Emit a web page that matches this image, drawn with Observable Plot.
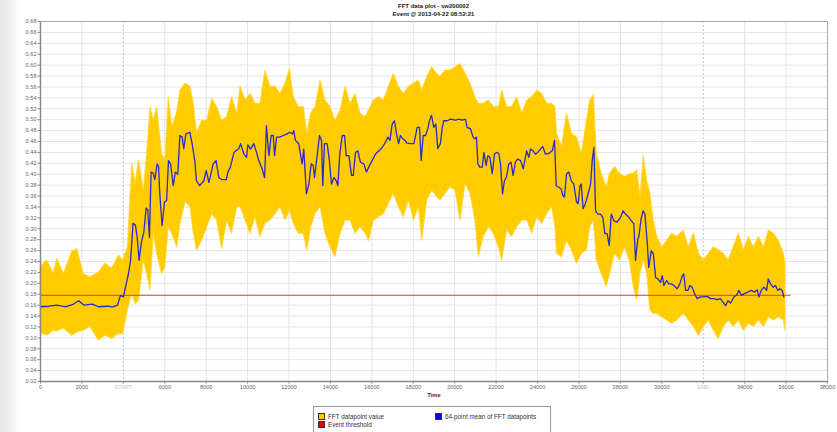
<!DOCTYPE html>
<html><head><meta charset="utf-8">
<script src="https://cdn.jsdelivr.net/npm/d3@7"></script>
<script src="https://cdn.jsdelivr.net/npm/@observablehq/plot@0.6"></script>
<style>
body{margin:0;background:#fff;font-family:"Liberation Sans",Arial,sans-serif;}
#wrap{position:relative;width:837px;height:432px;overflow:hidden;background:linear-gradient(to right,#e6e6e6 0px,#f3f3f3 12px,#fcfcfc 17px,#fff 19px);}
#title{position:absolute;left:40px;width:787px;top:3px;text-align:center;font-weight:bold;font-size:6px;line-height:7.5px;color:#222;z-index:2;}
#chart{position:absolute;left:0;top:15px;}
#legend{position:absolute;left:313px;top:406px;width:236px;height:40px;border:1px solid #999;background:#fff;font-size:6.3px;color:#333;}
.item{position:absolute;white-space:nowrap;line-height:7px;}
.sw{display:inline-block;width:5px;height:5px;border:0.7px solid #333;vertical-align:-1px;margin-right:3px;}
</style></head>
<body><div id="wrap">
<div id="chart"></div>
<div id="title">FFT data plot - sw200002<br>Event @ 2013-04-22 08:52:21</div>
<div id="legend"></div>
</div>
<script>
// FFT datapoint envelope
const fftX = [0,320,640,800,1130,1530,1770,2090,2410,2820,
3140,3460,3780,3990,4220,4430,4590,4750,4990,5150,
5310,5470,5630,5870,6030,6190,6360,6600,6760,7000,
7240,7400,7560,7800,8050,8290,8530,8770,9010,9250,
9500,9660,9900,10140,10380,10620,10860,11100,11350,11590,
11830,12040,12230,12470,12710,12880,13070,13280,13520,13760,
14000,14240,14490,14730,14970,15210,15450,15700,15860,16100,
16340,16580,16820,17060,17300,17540,17790,18030,18270,18430,
18670,18910,19150,19310,19550,19800,20040,20280,20520,20760,
21000,21160,21400,21650,21890,22130,22290,22530,22770,23020,
23260,23500,23740,23980,24220,24460,24700,24860,24940,25180,
25420,25660,25900,26140,26380,26540,26720,26860,27100,27340,
27500,27740,27980,28220,28460,28650,28810,28970,29130,29290,
29450,29610,29780,30020,30260,30500,30740,31060,31300,31550,
31790,32030,32270,32510,32750,32990,33230,33470,33720,33960,
34200,34440,34690,34930,35170,35410,35650,35890,35970];
const fftHigh = [.230,.242,.217,.245,.217,.258,.263,.217,.211,.220,
.236,.227,.251,.242,.266,.419,.382,.425,.370,.437,
.523,.498,.523,.437,.425,.541,.486,.514,.553,.566,
.560,.529,.474,.498,.498,.538,.523,.498,.505,.541,
.511,.560,.535,.547,.529,.529,.590,.560,.560,.547,
.566,.593,.541,.523,.523,.474,.511,.523,.572,.535,
.523,.498,.517,.560,.529,.547,.511,.505,.517,.535,
.541,.535,.560,.584,.560,.547,.560,.566,.572,.553,
.578,.596,.584,.578,.590,.590,.596,.602,.584,.566,
.541,.529,.529,.535,.523,.523,.553,.523,.523,.541,
.511,.535,.541,.553,.547,.529,.529,.523,.474,.450,
.511,.474,.468,.437,.498,.535,.545,.437,.401,.376,
.401,.413,.401,.395,.400,.401,.407,.358,.434,.388,
.364,.315,.285,.266,.278,.291,.285,.297,.266,.291,
.254,.242,.254,.266,.260,.254,.242,.266,.291,.260,
.285,.266,.285,.266,.297,.291,.278,.254,.236];
const fftLow = [.110,.104,.113,.112,.117,.104,.110,.113,.120,.095,
.104,.098,.107,.107,.150,.181,.162,.168,.242,.217,
.187,.291,.254,.217,.230,.303,.291,.266,.309,.349,
.340,.291,.260,.278,.303,.327,.315,.263,.315,.291,
.340,.340,.315,.291,.321,.285,.309,.315,.327,.340,
.315,.333,.309,.291,.291,.260,.303,.327,.340,.291,
.266,.248,.291,.315,.315,.291,.303,.291,.278,.315,
.321,.327,.346,.364,.340,.321,.352,.315,.340,.278,
.352,.370,.358,.352,.364,.376,.370,.315,.382,.364,
.315,.248,.285,.303,.291,.266,.242,.297,.285,.303,
.315,.315,.291,.321,.309,.327,.340,.303,.254,.248,
.278,.260,.236,.254,.260,.303,.315,.242,.217,.193,
.217,.254,.242,.266,.240,.193,.168,.217,.242,.217,
.150,.144,.144,.138,.132,.126,.132,.144,.132,.120,
.104,.120,.132,.113,.098,.120,.132,.120,.132,.113,
.126,.120,.132,.120,.138,.132,.138,.132,.113];
// 64-point mean of FFT datapoints
const meanX = [0,400,800,1200,1600,1840,2100,2500,2800,3200,
3500,3720,3860,4000,4250,4350,4470,4580,4670,4760,
4870,4990,5100,5180,5260,5340,5440,5520,5630,5700,
5760,5870,5990,6090,6180,6280,6410,6510,6630,6730,
6840,6920,7020,7210,7320,7450,7530,7680,7890,8000,
8130,8340,8480,8610,8770,8970,9050,9170,9340,9580,
9660,9820,9950,10010,10140,10300,10430,10540,10700,10820,
10910,11030,11140,11240,11300,11400,11560,11720,11910,12040,
12170,12230,12310,12470,12550,12630,12710,12840,12960,13070,
13170,13230,13360,13470,13570,13630,13710,13840,13940,14050,
14170,14280,14360,14450,14570,14680,14760,14890,15020,15100,
15210,15320,15450,15610,15740,15850,16010,16180,16340,16500,
16660,16770,16870,16980,17090,17190,17290,17380,17490,17600,
17700,17870,18030,18190,18300,18380,18480,18590,18700,18780,
18880,18990,19090,19180,19310,19400,19470,19640,19800,20040,
20200,20360,20520,20600,20760,20890,20970,21050,21120,21210,
21330,21410,21520,21600,21700,21810,21920,22020,22130,22210,
22310,22400,22500,22610,22720,22820,22930,23040,23180,23310,
23470,23580,23660,23790,23900,24010,24140,24250,24380,24540,
24710,24820,24900,25030,25140,25220,25300,25400,25510,25630,
25750,25880,25960,26050,26110,26200,26280,26400,26560,26640,
26720,26800,26910,27040,27150,27250,27360,27460,27560,27680,
27840,28010,28130,28250,28410,28520,28650,28730,28840,28890,
29000,29100,29180,29290,29370,29490,29590,29700,29810,29940,
30020,30100,30230,30340,30470,30580,30740,30870,30990,31060,
31150,31260,31350,31460,31580,31710,31870,32030,32190,32350,
32510,32670,32830,32960,33080,33190,33320,33480,33610,33720,
33850,33990,34150,34320,34480,34610,34690,34800,34930,35060,
35140,35250,35380,35490,35600,35700,35810,35890];
const meanY = [.157,.158,.160,.157,.162,.168,.160,.162,.157,.158,
.157,.160,.178,.175,.218,.242,.310,.307,.284,.242,
.275,.294,.338,.335,.284,.404,.402,.390,.419,.414,
.364,.306,.349,.352,.425,.419,.379,.404,.400,.471,
.468,.447,.474,.477,.456,.425,.388,.379,.388,.407,
.385,.419,.425,.394,.390,.390,.404,.413,.440,.447,
.456,.437,.431,.454,.446,.456,.440,.425,.410,.394,
.489,.434,.471,.471,.434,.468,.468,.471,.474,.477,
.474,.480,.462,.456,.437,.419,.446,.364,.382,.419,
.416,.394,.434,.471,.462,.379,.456,.456,.428,.382,
.394,.388,.379,.437,.471,.471,.434,.434,.398,.398,
.440,.443,.422,.419,.404,.413,.425,.437,.443,.449,
.459,.468,.462,.492,.498,.474,.456,.471,.465,.462,
.457,.456,.456,.486,.486,.425,.471,.471,.483,.498,
.508,.486,.492,.447,.456,.486,.498,.498,.501,.499,
.501,.499,.501,.486,.483,.468,.465,.468,.419,.413,
.413,.440,.416,.434,.431,.401,.437,.440,.438,.419,
.364,.388,.395,.419,.422,.398,.422,.428,.425,.410,
.443,.431,.446,.443,.437,.440,.446,.451,.437,.438,
.443,.462,.379,.376,.373,.361,.358,.401,.404,.388,
.382,.349,.346,.379,.382,.337,.343,.358,.382,.425,
.449,.333,.327,.327,.321,.291,.291,.269,.327,.315,
.312,.321,.333,.327,.321,.315,.309,.242,.281,.285,
.318,.333,.327,.278,.229,.260,.254,.211,.208,.202,
.214,.196,.205,.199,.199,.196,.190,.199,.214,.217,
.187,.187,.196,.193,.181,.172,.175,.175,.176,.172,
.172,.170,.172,.165,.159,.168,.164,.175,.178,.187,
.178,.181,.184,.187,.184,.188,.175,.187,.193,.187,
.208,.199,.193,.196,.187,.190,.187,.175];
// Event threshold
const thresholdX = [0, 36200];
const thresholdY = [0.178, 0.178];
// Axes
const xTicks = [0,2000,4000,6000,8000,10000,12000,14000,16000,18000,20000,22000,24000,26000,28000,30000,32000,34000,36000,38000];
const xTickLabels = ["0","2000","START","6000","8000","10000","12000","14000","16000","18000","20000","22000","24000","26000","28000","30000","END","34000","36000","38000"];
const markerX = [4000, 32000];
const yTicks = [0.02,0.04,0.06,0.08,0.10,0.12,0.14,0.16,0.18,0.20,0.22,0.24,0.26,0.28,0.30,0.32,0.34,0.36,0.38,0.40,0.42,0.44,0.46,0.48,0.50,0.52,0.54,0.56,0.58,0.60,0.62,0.64,0.66,0.68];
const legendLabels = ["FFT datapoint value","64-point mean of FFT datapoints","Event threshold"];
const legendColors = ["#ffcc00","#0000ff","#e00000"];

const fft = fftX.map((x,i)=>({x, lo: fftLow[i], hi: fftHigh[i]}));
const mean = meanX.map((x,i)=>({x, y: meanY[i]}));
const thr = thresholdX.map((x,i)=>({x, y: thresholdY[i]}));
const labelOf = new Map(xTicks.map((t,i)=>[t, xTickLabels[i]]));
const plainTicks = xTicks.filter(t=>!markerX.includes(t));

const chart = Plot.plot({
  width: 837, height: 387,
  marginLeft: 40, marginRight: 10, marginTop: 6, marginBottom: 21,
  style: {fontFamily: '"Liberation Sans", Arial, sans-serif', fontSize: "5.6px", color: "#555", background: "transparent"},
  x: {domain: [0, 38000]},
  y: {domain: [0.02, 0.68]},
  marks: [
    Plot.gridY(yTicks, {stroke: "#e4e4e4", strokeOpacity: 1}),
    Plot.gridX(plainTicks, {stroke: "#e4e4e4", strokeOpacity: 1}),
    Plot.ruleX(markerX, {stroke: "#c6c6c6", strokeDasharray: "2,2"}),
    Plot.areaY(fft, {x: "x", y1: "lo", y2: "hi", fill: "#ffcc00", stroke: "#ffd42a", strokeOpacity: 0.7, strokeWidth: 1.2}),
    Plot.line(thr, {x: "x", y: "y", stroke: "#e03030", strokeWidth: 0.9}),
    Plot.line(mean, {x: "x", y: "y", stroke: "#2a2acc", strokeWidth: 1.3}),
    Plot.frame({stroke: "#aaa"}),
    Plot.ruleX([0], {stroke: "#888", strokeWidth: 1.5}),
    Plot.ruleY([0.02], {stroke: "#888", strokeWidth: 1.5}),
    Plot.axisY(yTicks, {tickFormat: d3.format(".2f"), tickSize: 2.5, tickPadding: 1.5, stroke: "#888", fill: "#666", label: null}),
    Plot.axisX(plainTicks, {tickFormat: d => labelOf.get(d), tickSize: 2.5, tickPadding: 1.5, stroke: "#888", fill: "#666", label: null}),
    Plot.axisX(markerX, {tickFormat: d => labelOf.get(d), tickSize: 2.5, tickPadding: 1.5, stroke: "#888", fill: "#c4c4c4", label: null}),
    Plot.text(["Time"], {frameAnchor: "bottom", dy: 15, fontWeight: "bold", fill: "#333", fontSize: 5.8})
  ]
});
document.getElementById("chart").appendChild(chart);

const leg = document.getElementById("legend");
const pos = [[4,6],[121,6],[4,14]];
legendLabels.forEach((l,i)=>{
  const d = document.createElement("div");
  d.className = "item";
  d.style.left = pos[i][0] + "px";
  d.style.top = pos[i][1] + "px";
  d.innerHTML = `<span class="sw" style="background:${legendColors[i]}"></span>${l}`;
  leg.appendChild(d);
});
</script>
</body></html>
